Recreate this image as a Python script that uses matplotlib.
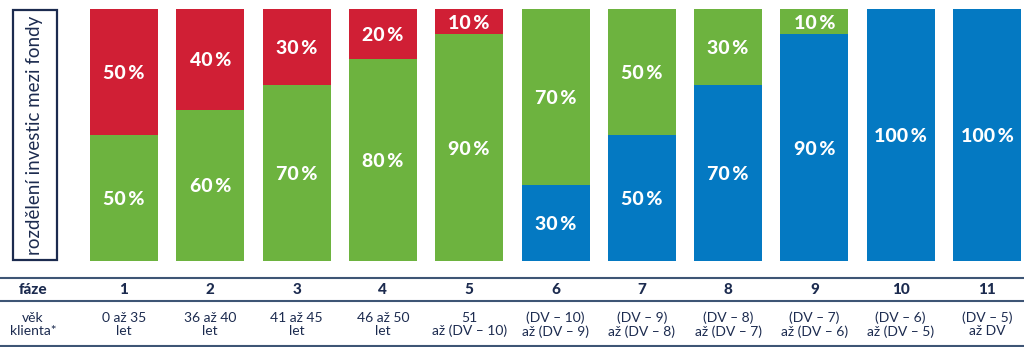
import matplotlib
matplotlib.use("Agg")
import matplotlib.pyplot as plt
from matplotlib.patches import Rectangle
from matplotlib.transforms import blended_transform_factory
import numpy as np

# Allocation per phase (percent)
phases = ["1", "2", "3", "4", "5", "6", "7", "8", "9", "10", "11"]
ages = ["0 až 35\nlet", "36 až 40\nlet", "41 až 45\nlet", "46 až 50\nlet",
        "51\naž (DV – 10)", "(DV – 10)\naž (DV – 9)", "(DV – 9)\naž (DV – 8)",
        "(DV – 8)\naž (DV – 7)", "(DV – 7)\naž (DV – 6)", "(DV – 6)\naž (DV – 5)",
        "(DV – 5)\naž DV"]
blue_vals = [0, 0, 0, 0, 0, 30, 50, 70, 90, 100, 100]
green_vals = [50, 60, 70, 80, 90, 70, 50, 30, 10, 0, 0]
red_vals = [50, 40, 30, 20, 10, 0, 0, 0, 0, 0, 0]

RED = "#D01F35"
GREEN = "#6DB33F"
BLUE = "#0479C2"
NAVY = "#1C2B4F"
LINE = "#3E5575"

plt.rcParams["font.family"] = ["Lato", "DejaVu Sans"]

W, H = 1024, 347
fig = plt.figure(figsize=(W / 100, H / 100), dpi=100)

# bar axes in pixel-based placement
ax_left, ax_right = 80, 1024
ax_top, ax_bottom = 9, 261
ax = fig.add_axes([ax_left / W, 1 - ax_bottom / H,
                   (ax_right - ax_left) / W, (ax_bottom - ax_top) / H])
step = 86.3
x0 = -(124 - ax_left) / step
ax.set_xlim(x0, x0 + (ax_right - ax_left) / step)
ax.set_ylim(0, 100)
ax.axis("off")

x = np.arange(len(phases))
blue = np.array(blue_vals)
green = np.array(green_vals)
red = np.array(red_vals)
bw = 68 / step
ax.bar(x, blue, width=bw, color=BLUE, linewidth=0)
ax.bar(x, green, width=bw, bottom=blue, color=GREEN, linewidth=0)
ax.bar(x, red, width=bw, bottom=blue + green, color=RED, linewidth=0)

def label(xi, bottom, val):
    if val > 0:
        ax.text(xi, bottom + val / 2 - 0.6, f"{val}\u2009%", ha="center", va="center",
                color="white", fontsize=14, fontweight="black")

for i in range(len(phases)):
    label(x[i], 0, blue[i])
    label(x[i], blue[i], green[i])
    label(x[i], blue[i] + green[i], red[i])

# vertical caption box
fig.patches.append(Rectangle((13 / W, 1 - 260 / H), 44 / W, 250 / H,
                             transform=fig.transFigure, fill=False,
                             edgecolor=NAVY, linewidth=1.6))
fig.text(35 / W, 1 - 135 / H, "rozdělení investic mezi fondy", rotation=90,
         ha="center", va="center", color=NAVY, fontsize=13.5)

# table lines
for yp in (278, 301, 345.5):
    fig.add_artist(plt.Line2D([0, 1], [1 - yp / H] * 2, transform=fig.transFigure,
                              color=LINE, linewidth=1.5))

tr = blended_transform_factory(ax.transData, fig.transFigure)
fig.text(33 / W, 1 - 290 / H, "fáze", ha="center", va="center",
         color=NAVY, fontsize=11, fontweight="black")
fig.text(33 / W, 1 - 324.5 / H, "věk\nklienta*", ha="center", va="center",
         color=NAVY, fontsize=10, linespacing=1.1)
for i in range(len(phases)):
    ax.text(x[i], 1 - 290 / H, phases[i], transform=tr, ha="center", va="center",
            color=NAVY, fontsize=11, fontweight="black")
    ax.text(x[i], 1 - 324.5 / H, ages[i], transform=tr, ha="center", va="center",
            color=NAVY, fontsize=10, linespacing=1.1)

fig.savefig("out.png", dpi=100, facecolor="white")
